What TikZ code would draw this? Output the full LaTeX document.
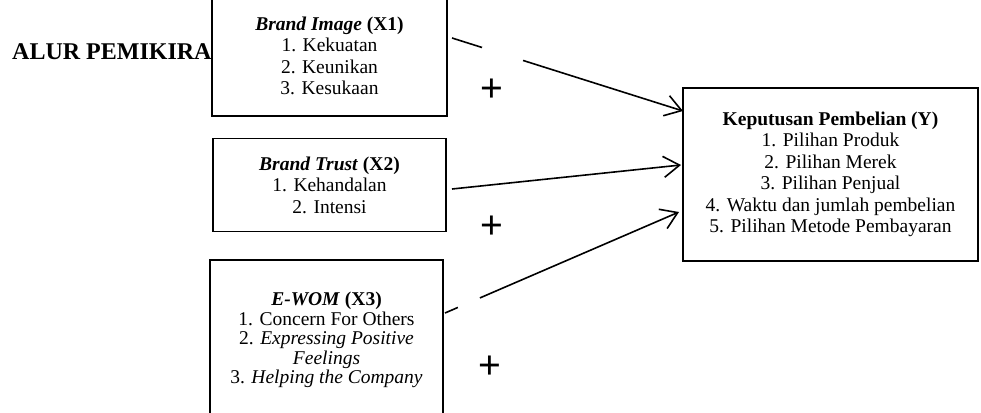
\documentclass[tikz,border=0pt]{standalone}
\usepackage{fontspec}
\setmainfont{Liberation Serif}
\newfontfamily\plusfont{Liberation Sans}
\usetikzlibrary{arrows.meta}
\tikzset{
  varbox/.style={draw, line width=1.6pt, fill=white, inner sep=0pt, outer sep=0pt, align=center,
    font=\fontsize{19.5}{21.5}\selectfont},
  conn/.style={line width=1.6pt, -{Straight Barb[length=16pt,width=21pt,line width=1.6pt]}},
  plussign/.style={font=\plusfont\fontsize{39}{39}\selectfont, inner sep=0pt}
}
\begin{document}
\begin{tikzpicture}[x=1pt,y=-1pt]
\useasboundingbox (0,0) rectangle (981,412);
\clip (0,0) rectangle (981,412);
\fill[white] (0,0) rectangle (981,412);
\node[anchor=west, font=\bfseries\fontsize{24}{24}\selectfont, inner sep=0pt] (title) at (12,52) {ALUR PEMIKIRA};
\node[varbox, minimum width=235pt, minimum height=120pt] (x1) at (329.5,56)
  {\textbf{\textit{Brand Image} (X1)}\\1. Kekuatan\\2. Keunikan\\3. Kesukaan};
\node[varbox, minimum width=233pt, minimum height=93pt] (x2) at (329.5,185)
  {\textbf{\textit{Brand Trust} (X2)}\\1. Kehandalan\\2. Intensi};
\node[varbox, minimum width=233pt, minimum height=160pt, font=\fontsize{19.5}{19.5}\selectfont] (x3) at (326.5,340)
  {\textbf{\textit{E-WOM} (X3)}\\1. Concern For Others\\2. \textit{Expressing Positive}\\\textit{Feelings}\\3. \textit{Helping the Company}};
\node[varbox, minimum width=295pt, minimum height=173pt] (y) at (830.5,174.5)
  {\textbf{Keputusan Pembelian (Y)}\\1. Pilihan Produk\\2. Pilihan Merek\\3. Pilihan Penjual\\4. Waktu dan jumlah pembelian\\5. Pilihan Metode Pembayaran};
\coordinate (s1) at (452,38);
\coordinate (s2) at (452,189);
\coordinate (s3) at (445,313);
\draw[conn, dash pattern=on 31.5pt off 43pt on 400pt] (s1) -- ([yshift=63.5pt]y.west);
\draw[conn] (s2) -- ([xshift=-2pt,yshift=9.5pt]y.west);
\draw[conn, dash pattern=on 14pt off 24pt on 400pt] (s3) -- ([xshift=-4pt,yshift=-37.5pt]y.west);
\node[plussign] (p1) at (492,90) {+};
\node[plussign] (p2) at (492,227) {+};
\node[plussign] (p3) at (490,367) {+};
\end{tikzpicture}
\end{document}
